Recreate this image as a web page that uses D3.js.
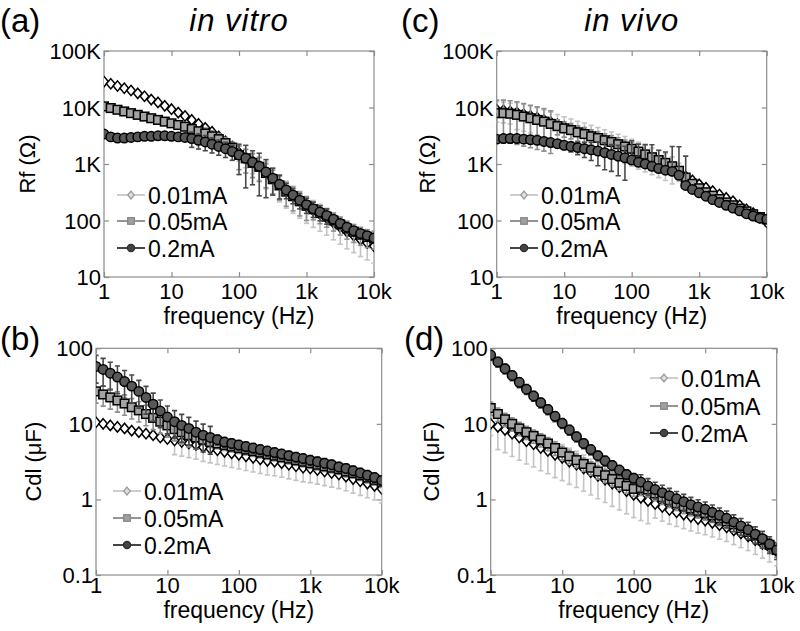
<!DOCTYPE html>
<html><head><meta charset="utf-8">
<script src="https://cdn.jsdelivr.net/npm/d3@7"></script>
<style>
body{margin:0;background:#fff}
svg{display:block}
text{font-family:"Liberation Sans",Arial,Helvetica,sans-serif;fill:#000}
</style>
</head><body>
<svg id="chart" width="800" height="631"></svg>
<script>
// ---------------- DATA ----------------
const freqs = [1,1.259,1.585,1.995,2.512,3.162,3.981,5.012,6.31,7.943,10,12.59,15.85,19.95,25.12,31.62,39.81,50.12,63.1,79.43,100,125.9,158.5,199.5,251.2,316.2,398.1,501.2,631,794.3,1000,1259,1585,1995,2512,3162,3981,5012,6310,7943,10000];
const seriesNames = ["0.01mA","0.05mA","0.2mA"];
const xTickValues = [1,10,100,1000,10000];
const xTickLabels = ["1","10","100","1k","10k"];
const rfTickValues = [10,100,1000,10000,100000];
const rfTickLabels = ["10","100","1K","10K","100K"];
const cdlTickValues = [0.1,1,10,100];
const cdlTickLabels = ["0.1","1","10","100"];

// (a) Rf in vitro (ohm)
const rfVitro01 = [28800,26300,24000,21900,20000,17800,15800,13800,12300,10700,9330,8130,7080,6030,5130,4370,3720,3090,2510,2040,1590,1320,1120,933,724,562,427,331,269,219,178,151,129,110,91,76,63,54,46,40,35];
const rfVitro05 = [10470,9772,9120,8511,7943,7413,6918,6457,6026,5623,5248,4898,4571,4169,3802,3467,3090,2754,2344,1950,1445,1259,1047,891,692,537,417,324,269,219,182,158,135,117,100,85,72,63,56,51,48];
const rfVitro2  = [3388,3020,2884,2884,2951,3020,3090,3090,3162,3162,3090,3020,2951,2818,2630,2455,2239,2042,1862,1660,1445,1259,1072,912,724,562,437,347,282,229,191,162,141,123,105,89,76,66,59,54,49];
const rfVitroErr01 = [0.08,0.08,0.08,0.08,0.08,0.08,0.08,0.08,0.08,0.08,0.08,0.08,0.08,0.08,0.08,0.08,0.08,0.08,0.08,0.08,0.3,0.35,0.4,0.45,0.5,0.5,0.5,0.5,0.5,0.5,0.5,0.5,0.5,0.5,0.5,0.5,0.5,0.5,0.5,0.5,0.5];
const rfVitroErr05 = [0.06,0.06,0.06,0.06,0.06,0.06,0.06,0.06,0.06,0.06,0.06,0.06,0.06,0.06,0.06,0.25,0.25,0.25,0.25,0.25,0.45,0.45,0.45,0.45,0.45,0.45,0.45,0.45,0.45,0.45,0.45,0.35,0.35,0.35,0.35,0.35,0.35,0.35,0.35,0.35,0.35];
const rfVitroErr2  = [0.12,0.12,0.12,0.12,0.12,0.12,0.12,0.12,0.12,0.12,0.12,0.12,0.12,0.3,0.3,0.3,0.3,0.3,0.3,0.3,0.55,0.7,0.6,0.7,0.65,0.5,0.45,0.3,0.3,0.3,0.3,0.3,0.3,0.3,0.15,0.15,0.15,0.15,0.15,0.15,0.15];

// (c) Rf in vivo (ohm)
const rfVivo01 = [9120,8913,8511,8128,7586,7079,6607,6026,5495,5012,4571,4169,3802,3548,3236,2951,2692,2455,2239,2042,1820,1622,1445,1288,1148,1023,891,759,603,513,437,380,331,288,251,219,186,158,135,112,93];
const rfVivo05 = [7943,7943,7762,7413,6918,6457,6026,5623,5129,4677,4266,3981,3631,3388,3090,2884,2630,2455,2239,2042,1862,1660,1479,1318,1175,1047,912,759,575,447,372,316,275,240,209,186,162,145,129,115,105];
const rfVivo2  = [2754,2818,2818,2818,2754,2692,2630,2512,2399,2291,2138,2042,1950,1862,1778,1698,1585,1479,1380,1288,1175,1072,1000,912,832,776,741,631,417,355,309,269,234,209,186,166,148,132,120,110,105];
const rfVivoErr01 = [0.4,0.4,0.4,0.5,0.5,0.5,0.5,0.5,0.5,0.5,0.5,0.5,0.5,0.5,0.5,0.5,0.5,0.5,0.5,0.5,0.5,0.5,0.5,0.5,0.5,0.5,0.5,0.35,0.15,0.15,0.15,0.15,0.15,0.15,0.15,0.15,0.15,0.15,0.15,0.15,0.15];
const rfVivoErr05 = [0.7,0.7,0.7,0.7,0.7,0.7,0.7,0.7,0.7,0.3,0.3,0.3,0.3,0.3,0.3,0.3,0.3,0.3,0.3,0.3,0.3,0.15,0.15,0.15,0.15,0.15,0.15,0.15,0.15,0.15,0.15,0.15,0.15,0.15,0.15,0.15,0.15,0.15,0.15,0.15,0.15];
const rfVivoErr2  = [0.15,0.15,0.15,0.15,0.15,0.15,0.15,0.15,0.15,0.15,0.15,0.2,0.25,0.3,0.35,0.45,0.5,0.5,0.55,0.6,1.2,1.1,1.2,1.4,1.1,1.1,1.75,2.2,2.3,0.1,0.1,0.1,0.1,0.1,0.1,0.1,0.1,0.1,0.1,0.1,0.1];

// (b) Cdl in vitro (uF)
const cdlVitro01 = [10.5,10.0,9.55,9.12,8.71,8.13,7.76,7.41,7.08,6.61,6.31,6.03,5.75,5.50,5.25,4.90,4.68,4.47,4.27,4.07,3.89,3.72,3.55,3.39,3.24,3.16,3.02,2.88,2.75,2.63,2.57,2.45,2.34,2.24,2.14,2.00,1.86,1.74,1.62,1.51,1.38];
const cdlVitro05 = [26.9,24.5,22.4,20.4,18.6,16.6,15.1,13.5,12.0,10.7,9.55,8.51,7.76,7.08,6.61,6.17,5.75,5.50,5.25,5.01,4.79,4.57,4.37,4.17,3.98,3.80,3.63,3.47,3.31,3.16,3.02,2.88,2.75,2.63,2.51,2.34,2.24,2.09,1.95,1.82,1.70];
const cdlVitro2  = [57.5,52.5,46.8,41.7,36.3,31.6,26.9,22.4,18.2,14.8,12.3,10.7,9.55,8.71,7.76,7.08,6.61,6.17,5.75,5.50,5.25,5.01,4.79,4.57,4.37,4.17,3.98,3.80,3.63,3.47,3.31,3.16,3.02,2.88,2.69,2.57,2.40,2.24,2.09,1.95,1.78];
const cdlVitroErr01 = [0.1,0.1,0.1,0.1,0.1,0.1,0.1,0.1,0.1,0.1,0.1,0.35,0.35,0.35,0.35,0.35,0.35,0.35,0.35,0.35,0.35,0.35,0.35,0.35,0.35,0.35,0.35,0.35,0.35,0.35,0.35,0.35,0.35,0.35,0.35,0.35,0.35,0.35,0.35,0.35,0.35];
const cdlVitroErr05 = [0.3,0.3,0.3,0.3,0.3,0.3,0.3,0.3,0.3,0.3,0.3,0.3,0.3,0.3,0.3,0.15,0.15,0.15,0.15,0.15,0.15,0.15,0.15,0.15,0.15,0.15,0.15,0.15,0.15,0.15,0.15,0.15,0.15,0.15,0.15,0.15,0.15,0.15,0.15,0.15,0.15];
const cdlVitroErr2  = [0.4,0.4,0.4,0.4,0.4,0.4,0.4,0.4,0.4,0.4,0.4,0.4,0.4,0.4,0.4,0.4,0.4,0.15,0.15,0.15,0.15,0.15,0.15,0.15,0.15,0.15,0.15,0.15,0.15,0.15,0.15,0.15,0.15,0.15,0.15,0.15,0.15,0.15,0.15,0.15,0.15];

// (d) Cdl in vivo (uF)
const cdlVivo01 = [10.0,9.12,8.32,7.41,6.61,5.89,5.37,4.79,4.37,3.89,3.55,3.16,2.88,2.57,2.29,2.04,1.82,1.62,1.45,1.29,1.15,1.05,0.955,0.871,0.794,0.724,0.676,0.631,0.589,0.550,0.525,0.490,0.457,0.427,0.389,0.355,0.324,0.288,0.257,0.229,0.204];
const cdlVivo05 = [16.2,13.5,11.5,10.0,8.71,7.76,6.92,6.17,5.50,4.79,4.17,3.72,3.31,2.95,2.63,2.34,2.09,1.86,1.66,1.51,1.38,1.41,1.35,1.20,1.07,0.977,0.891,0.813,0.759,0.708,0.661,0.617,0.562,0.513,0.468,0.417,0.372,0.331,0.288,0.251,0.214];
const cdlVivo2  = [81.3,66.1,53.7,43.7,35.5,28.8,23.4,19.1,15.5,12.6,10.2,8.32,6.76,5.50,4.57,3.80,3.24,2.82,2.45,2.14,1.91,1.70,1.51,1.35,1.23,1.12,1.02,0.933,0.851,0.794,0.741,0.676,0.617,0.562,0.501,0.447,0.398,0.347,0.302,0.257,0.214];
const cdlVivoErr01 = [0.3,0.5,0.5,0.5,0.5,0.5,0.5,0.5,0.5,0.5,0.5,0.5,0.5,0.5,0.5,0.5,0.5,0.5,0.5,0.5,0.5,0.5,0.5,0.35,0.35,0.35,0.35,0.35,0.35,0.35,0.35,0.35,0.35,0.35,0.35,0.35,0.35,0.35,0.35,0.35,0.35];
const cdlVivoErr05 = [0.2,0.2,0.2,0.2,0.2,0.2,0.2,0.2,0.2,0.2,0.2,0.2,0.2,0.2,0.2,0.2,0.2,0.2,0.2,0.2,0.2,0.2,0.2,0.2,0.2,0.2,0.2,0.2,0.2,0.2,0.2,0.2,0.2,0.2,0.2,0.2,0.2,0.2,0.2,0.2,0.2];
const cdlVivoErr2  = [0.15,0.15,0.15,0.15,0.15,0.15,0.15,0.15,0.15,0.15,0.15,0.15,0.15,0.15,0.15,0.15,0.15,0.15,0.15,0.15,0.15,0.25,0.25,0.25,0.25,0.25,0.25,0.25,0.25,0.25,0.25,0.25,0.25,0.25,0.25,0.25,0.25,0.25,0.25,0.25,0.25];

// ---------------- STYLE / LAYOUT ----------------
const styles = [
  {shape:"diamond", fill:"#ffffff", stroke:"#000", err:"#c4c4c4", line:"#c8c8c8",
   lgFill:"#dedede", lgStroke:"#9a9a9a", lgLine:"#c8c8c8"},
  {shape:"square", fill:"#a3a3a3", stroke:"#000", err:"#8e8e8e", line:"#8a8a8a",
   lgFill:"#a0a0a0", lgStroke:"#858585", lgLine:"#888888"},
  {shape:"circle", fill:"#585858", stroke:"#000", err:"#4a4a4a", line:"#333333",
   lgFill:"#434343", lgStroke:"#2c2c2c", lgLine:"#303030"}
];

const panels = [
  {label:"(a)", labelX:0, labelY:32, title:"in vitro", x0:104, x1:374, y0:51, y1:277,
   ydom:[10,100000], yt:rfTickValues, ytl:rfTickLabels, ylab:"Rf (\u03A9)", ylabX:35,
   xtY:299, xlabY:324, vals:[rfVitro01,rfVitro05,rfVitro2], errs:[rfVitroErr01,rfVitroErr05,rfVitroErr2],
   lg:{x:117, rows:[195,221,248]}},
  {label:"(c)", labelX:401, labelY:32, title:"in vivo", x0:496.7, x1:766.7, y0:51, y1:277,
   ydom:[10,100000], yt:rfTickValues, ytl:rfTickLabels, ylab:"Rf (\u03A9)", ylabX:435,
   xtY:299, xlabY:324, vals:[rfVivo01,rfVivo05,rfVivo2], errs:[rfVivoErr01,rfVivoErr05,rfVivoErr2],
   lg:{x:510, rows:[195,221,248]}},
  {label:"(b)", labelX:0, labelY:350, title:null, x0:96, x1:381.7, y0:348.3, y1:575,
   ydom:[0.1,100], yt:cdlTickValues, ytl:cdlTickLabels, ylab:"Cdl (\u03BCF)", ylabX:41,
   xtY:593, xlabY:618, vals:[cdlVitro01,cdlVitro05,cdlVitro2], errs:[cdlVitroErr01,cdlVitroErr05,cdlVitroErr2],
   lg:{x:113, rows:[491,518,545]}},
  {label:"(d)", labelX:404, labelY:350, title:null, x0:490.7, x1:776.7, y0:348.3, y1:575,
   ydom:[0.1,100], yt:cdlTickValues, ytl:cdlTickLabels, ylab:"Cdl (\u03BCF)", ylabX:439,
   xtY:593, xlabY:618, vals:[cdlVivo01,cdlVivo05,cdlVivo2], errs:[cdlVivoErr01,cdlVivoErr05,cdlVivoErr2],
   lg:{x:650, rows:[378,406,433]}}
];

const svg = d3.select("#chart");
const defs = svg.append("defs");

function drawMarker(g, shape, cx, cy, fill, stroke, s, sw){
  if(shape==="diamond"){
    g.append("path").attr("d",`M${cx},${cy-s*1.2}L${cx+s},${cy}L${cx},${cy+s*1.2}L${cx-s},${cy}Z`)
     .attr("fill",fill).attr("stroke",stroke).attr("stroke-width",sw);
  } else if(shape==="square"){
    g.append("rect").attr("x",cx-s).attr("y",cy-s).attr("width",2*s).attr("height",2*s)
     .attr("fill",fill).attr("stroke",stroke).attr("stroke-width",sw);
  } else {
    g.append("circle").attr("cx",cx).attr("cy",cy).attr("r",s*1.1)
     .attr("fill",fill).attr("stroke",stroke).attr("stroke-width",sw);
  }
}

function styleTicks(a){
  a.select(".domain").remove();
  a.selectAll("line").attr("stroke","#8c8c8c").attr("stroke-width",1.2);
}

panels.forEach((p,pi)=>{
  const x = d3.scaleLog().domain([1,10000]).range([p.x0,p.x1]);
  const y = d3.scaleLog().domain(p.ydom).range([p.y1,p.y0]);
  const g = svg.append("g");
  const clipId = "clip"+pi;
  defs.append("clipPath").attr("id",clipId).append("rect")
    .attr("x",p.x0).attr("y",p.y0).attr("width",p.x1-p.x0).attr("height",p.y1-p.y0);

  // axes box
  g.append("rect").attr("x",p.x0).attr("y",p.y0).attr("width",p.x1-p.x0).attr("height",p.y1-p.y0)
    .attr("fill","none").attr("stroke","#8c8c8c").attr("stroke-width",1.2);

  // inward ticks on all four sides
  g.append("g").attr("transform",`translate(0,${p.y1})`)
    .call(d3.axisBottom(x).tickValues(xTickValues).tickSize(-5).tickFormat("")).call(styleTicks);
  g.append("g").attr("transform",`translate(0,${p.y0})`)
    .call(d3.axisTop(x).tickValues(xTickValues).tickSize(-5).tickFormat("")).call(styleTicks);
  g.append("g").attr("transform",`translate(${p.x0},0)`)
    .call(d3.axisLeft(y).tickValues(p.yt).tickSize(-5).tickFormat("")).call(styleTicks);
  g.append("g").attr("transform",`translate(${p.x1},0)`)
    .call(d3.axisRight(y).tickValues(p.yt).tickSize(-5).tickFormat("")).call(styleTicks);

  // tick labels
  xTickValues.forEach((v,i)=>{
    g.append("text").attr("x",x(v)).attr("y",p.xtY).attr("text-anchor","middle")
      .style("font-size","22px").text(xTickLabels[i]);
  });
  p.yt.forEach((v,i)=>{
    g.append("text").attr("x",p.x0-3).attr("y",y(v)+8).attr("text-anchor","end")
      .style("font-size","22px").text(p.ytl[i]);
  });

  // axis labels
  g.append("text").attr("x",(p.x0+p.x1)/2).attr("y",p.xlabY).attr("text-anchor","middle")
    .style("font-size","23px").text("frequency (Hz)");
  g.append("text").attr("transform",`translate(${p.ylabX},${(p.y0+p.y1)/2}) rotate(-90)`)
    .attr("text-anchor","middle").style("font-size","22px").text(p.ylab);

  // panel label & title
  g.append("text").attr("x",p.labelX).attr("y",p.labelY).style("font-size","33px").text(p.label);
  if(p.title){
    g.append("text").attr("x",(p.x0+p.x1)/2).attr("y",31).attr("text-anchor","middle")
      .style("font-size","31px").style("font-style","italic").style("letter-spacing","1px").text(p.title);
  }

  // data: error bars, connecting line, markers (series drawn in legend order)
  const plot = g.append("g").attr("clip-path",`url(#${clipId})`);
  p.vals.forEach((vals,si)=>{
    const st = styles[si];
    const errs = p.errs[si];
    const eg = plot.append("g").attr("stroke",st.err).attr("stroke-width",1.6).attr("fill","none");
    vals.forEach((v,i)=>{
      const cx = x(freqs[i]);
      const e = v*errs[i];
      const hi = y(v+e);
      const lo = (v-e)>0 ? y(v-e) : null;
      eg.append("line").attr("x1",cx).attr("x2",cx).attr("y1",y(v)).attr("y2",hi);
      eg.append("line").attr("x1",cx-2.6).attr("x2",cx+2.6).attr("y1",hi).attr("y2",hi);
      if(lo!==null){
        eg.append("line").attr("x1",cx).attr("x2",cx).attr("y1",y(v)).attr("y2",lo);
        eg.append("line").attr("x1",cx-2.6).attr("x2",cx+2.6).attr("y1",lo).attr("y2",lo);
      }
    });
    const line = d3.line().x((d,i)=>x(freqs[i])).y(d=>y(d));
    plot.append("path").datum(vals).attr("d",line).attr("fill","none")
      .attr("stroke",st.line).attr("stroke-width",1.3);
    const mg = plot.append("g");
    vals.forEach((v,i)=>{
      drawMarker(mg, st.shape, x(freqs[i]), y(v), st.fill, st.stroke, 4.3, 1.5);
    });
  });

  // legend
  const lg = g.append("g");
  seriesNames.forEach((name,si)=>{
    const st = styles[si];
    const ry = p.lg.rows[si];
    lg.append("line").attr("x1",p.lg.x).attr("x2",p.lg.x+28).attr("y1",ry).attr("y2",ry)
      .attr("stroke",st.lgLine).attr("stroke-width",1.8);
    drawMarker(lg, st.shape, p.lg.x+14, ry, st.lgFill, st.lgStroke, 3.3, 1.2);
    lg.append("text").attr("x",p.lg.x+31).attr("y",ry+8.5).style("font-size","23px").text(name);
  });
});
</script>
</body></html>
